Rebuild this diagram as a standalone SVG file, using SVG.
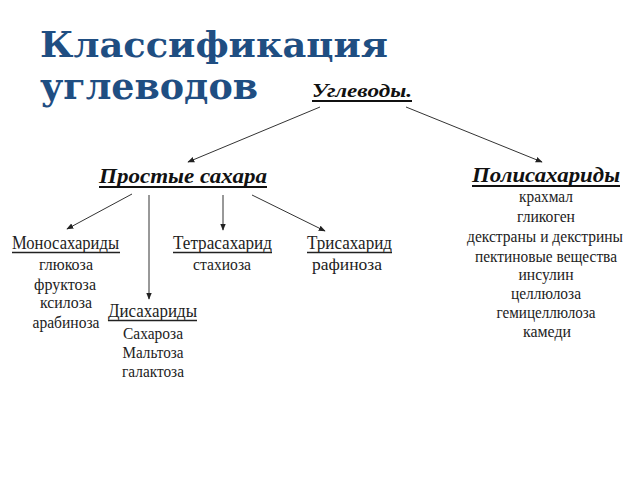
<svg xmlns="http://www.w3.org/2000/svg" width="640" height="480" viewBox="0 0 640 480">
<defs>
<marker id="ah" viewBox="0 0 10 10" refX="9" refY="5" markerWidth="7" markerHeight="7" markerUnits="userSpaceOnUse" orient="auto">
<path d="M0,1 L10,5 L0,9 Z" fill="#222"/>
</marker>
<style>
.title{font-family:"DejaVu Serif","Liberation Serif",serif;font-weight:bold;fill:#1F4E82}
.hd{font-family:"Liberation Serif",serif;font-weight:bold;font-style:italic;fill:#111}
.sub{font-family:"Liberation Serif",serif;font-size:18px;fill:#222}
.it{font-family:"Liberation Serif",serif;font-size:16.5px;fill:#222;text-anchor:middle}
.ul{stroke:#222;stroke-width:1.3}
.ulh{stroke:#111;stroke-width:1.8}
.conn line{stroke:#333;stroke-width:1;marker-end:url(#ah)}
</style>
</defs>
<rect width="640" height="480" fill="#fff"/>
<g id="title">
<text class="title" x="40" y="57" font-size="36" textLength="348" lengthAdjust="spacingAndGlyphs">Классификация</text>
<text class="title" x="40" y="99" font-size="38" textLength="218" lengthAdjust="spacingAndGlyphs">углеводов</text>
</g>
<g id="n-uglevody">
<text class="hd" x="312" y="97" font-size="19" textLength="100" lengthAdjust="spacingAndGlyphs">Углеводы.</text>
<line class="ulh" x1="312" y1="101" x2="412" y2="101"/>
</g>
<g id="n-prostye">
<text class="hd" x="99" y="183" font-size="21" textLength="168" lengthAdjust="spacingAndGlyphs">Простые сахара</text>
<line class="ulh" x1="99" y1="187" x2="267" y2="187"/>
</g>
<g id="n-poly">
<text class="hd" x="472" y="182" font-size="21" textLength="148" lengthAdjust="spacingAndGlyphs">Полисахариды</text>
<line class="ulh" x1="472" y1="186" x2="620" y2="186"/>
<text class="it" x="546" y="202" textLength="54" lengthAdjust="spacingAndGlyphs">крахмал</text>
<text class="it" x="546" y="222" textLength="58" lengthAdjust="spacingAndGlyphs">гликоген</text>
<text class="it" x="545" y="242" textLength="156" lengthAdjust="spacingAndGlyphs">декстраны и декстрины</text>
<text class="it" x="546" y="262" textLength="142" lengthAdjust="spacingAndGlyphs">пектиновые вещества</text>
<text class="it" x="546" y="280" textLength="55" lengthAdjust="spacingAndGlyphs">инсулин</text>
<text class="it" x="546" y="299" textLength="70" lengthAdjust="spacingAndGlyphs">целлюлоза</text>
<text class="it" x="546" y="318" textLength="99" lengthAdjust="spacingAndGlyphs">гемицеллюлоза</text>
<text class="it" x="547" y="337" textLength="48" lengthAdjust="spacingAndGlyphs">камеди</text>
</g>
<g id="n-mono">
<text class="sub" x="12" y="249" textLength="107" lengthAdjust="spacingAndGlyphs">Моносахариды</text>
<line class="ul" x1="12" y1="252.5" x2="120" y2="252.5"/>
<text class="it" x="66" y="270" textLength="54" lengthAdjust="spacingAndGlyphs">глюкоза</text>
<text class="it" x="65" y="290" textLength="62" lengthAdjust="spacingAndGlyphs">фруктоза</text>
<text class="it" x="66" y="308" textLength="52" lengthAdjust="spacingAndGlyphs">ксилоза</text>
<text class="it" x="66" y="328" textLength="67" lengthAdjust="spacingAndGlyphs">арабиноза</text>
</g>
<g id="n-tetra">
<text class="sub" x="173" y="249" textLength="99" lengthAdjust="spacingAndGlyphs">Тетрасахарид</text>
<line class="ul" x1="173" y1="252.5" x2="272" y2="252.5"/>
<text class="it" x="222" y="270" textLength="58" lengthAdjust="spacingAndGlyphs">стахиоза</text>
</g>
<g id="n-tri">
<text class="sub" x="307" y="249" textLength="85" lengthAdjust="spacingAndGlyphs">Трисахарид</text>
<line class="ul" x1="307" y1="252.5" x2="392" y2="252.5"/>
<text class="it" x="347" y="270" textLength="70" lengthAdjust="spacingAndGlyphs">рафиноза</text>
</g>
<g id="n-di">
<text class="sub" x="108" y="317" textLength="89" lengthAdjust="spacingAndGlyphs">Дисахариды</text>
<line class="ul" x1="108" y1="320.5" x2="197" y2="320.5"/>
<text class="it" x="153" y="339" textLength="60" lengthAdjust="spacingAndGlyphs">Сахароза</text>
<text class="it" x="153" y="358" textLength="61" lengthAdjust="spacingAndGlyphs">Мальтоза</text>
<text class="it" x="153" y="377" textLength="62" lengthAdjust="spacingAndGlyphs">галактоза</text>
</g>
<g id="connectors" class="conn">
<line x1="320" y1="107" x2="188" y2="162"/>
<line x1="406" y1="107" x2="542" y2="162"/>
<line x1="132" y1="194" x2="67" y2="229"/>
<line x1="149" y1="195" x2="149" y2="299"/>
<line x1="223" y1="195" x2="223" y2="230"/>
<line x1="252" y1="195" x2="325" y2="231"/>
</g>
</svg>
